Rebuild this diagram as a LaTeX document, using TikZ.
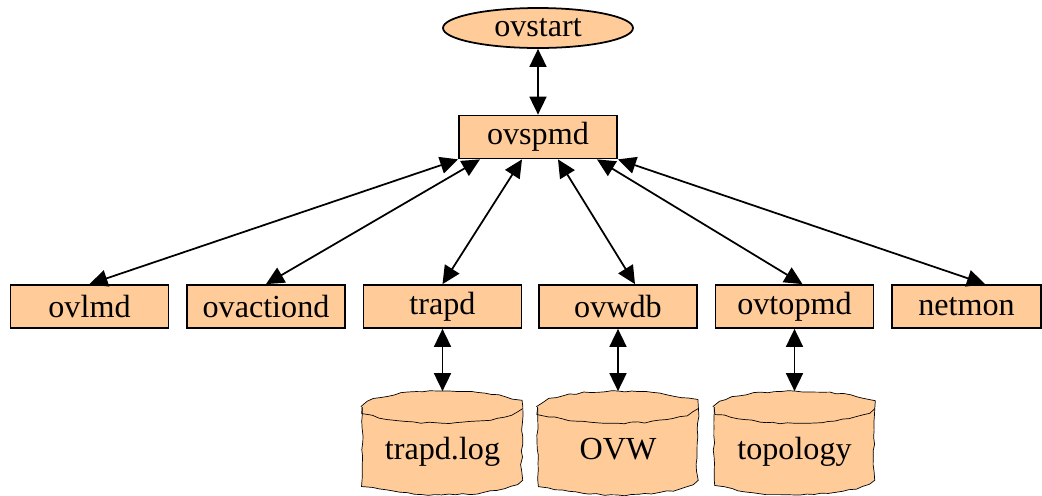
\documentclass[tikz,border=0pt]{standalone}
\usepackage{fontspec}
\setmainfont{Liberation Serif}
\usetikzlibrary{arrows.meta,%
		backgrounds,%
		decorations.pathmorphing,%
		positioning,%
		shapes.geometric}
\definecolor{pesca}{HTML}{FFCC99}
\tikzset{proc/.style={draw,fill=pesca,minimum width=3.16cm,minimum height=.86cm,inner sep=0pt},
	avvio/.style={ellipse,draw,fill=pesca,minimum width=3.8cm,minimum height=.8cm,inner sep=0pt},
	archivio/.style={minimum width=3.18cm,minimum height=2.04cm,inner sep=0pt,text height=.8cm,text depth=.16cm},
	cilindro/.style={fill=pesca,decorate,decoration={random steps,segment length=4pt,amplitude=.5pt}}}

\begin{document}
\begin{tikzpicture}[x=.02cm,y=-.02cm,font=\fontsize{18.3}{22}\selectfont,line width=1pt,
	>={Triangle[length=.36cm,width=.34cm]}]
\useasboundingbox (0,0) rectangle (1042,495);
%avvio
\node[avvio] (ovstart) at (538,28) {ovstart};
\node[proc] (ovspmd) at (538,137) {ovspmd};

%processi
\node[proc] (ovlmd) at (89.5,306.5) {ovlmd};
\node[proc] (ovactiond) at (266,306.5) {ovactiond};
\node[proc] (trapd) at (442.5,306.5) {trapd};
\node[proc] (ovwdb) at (618,306.5) {ovwdb};
\node[proc] (ovtopmd) at (794.5,306.5) {ovtopmd};
\node[proc,minimum width=2.98cm] (netmon) at (966.5,306.5) {netmon};

%archivi
\node[archivio] (trapdlog) at (442.5,443) {trapd.log};
\node[archivio] (ovw) at (618,443) {OVW};
\node[archivio] (topology) at (794.5,443) {topology};
\begin{scope}[on background layer]
\pgfmathsetseed{7}
\foreach \n in {trapdlog,ovw,topology}{
	\filldraw[cilindro] ([yshift=-.32cm]\n.north west) -- ([yshift=.32cm]\n.south west)
		arc[start angle=180,end angle=360,x radius=1.59cm,y radius=.32cm]
		-- ([yshift=-.32cm]\n.north east)
		arc[start angle=0,end angle=180,x radius=1.59cm,y radius=.32cm] -- cycle;
	\draw[cilindro,fill=none] ([yshift=-.32cm]\n.north west)
		arc[start angle=180,end angle=360,x radius=1.59cm,y radius=.32cm];
}
\end{scope}

%collegamenti
\draw[<->] (ovstart) -- (ovspmd);
\draw[<->] (ovspmd.south west) -- (ovlmd.north);
\draw[<->] ([xshift=-1.16cm]ovspmd.south) -- (ovactiond.north);
\draw[<->] ([xshift=-.32cm]ovspmd.south) -- (trapd.north);
\draw[<->] ([xshift=.4cm]ovspmd.south) -- ([xshift=.34cm]ovwdb.north);
\draw[<->] ([xshift=1.18cm]ovspmd.south) -- ([xshift=.16cm]ovtopmd.north);
\draw[<->] (ovspmd.south east) -- ([xshift=.37cm]netmon.north);
\draw[<->] (trapd.south) -- (trapdlog.north);
\draw[<->] (ovwdb.south) -- (ovw.north);
\draw[<->] (ovtopmd.south) -- (topology.north);
\end{tikzpicture}
\end{document}
